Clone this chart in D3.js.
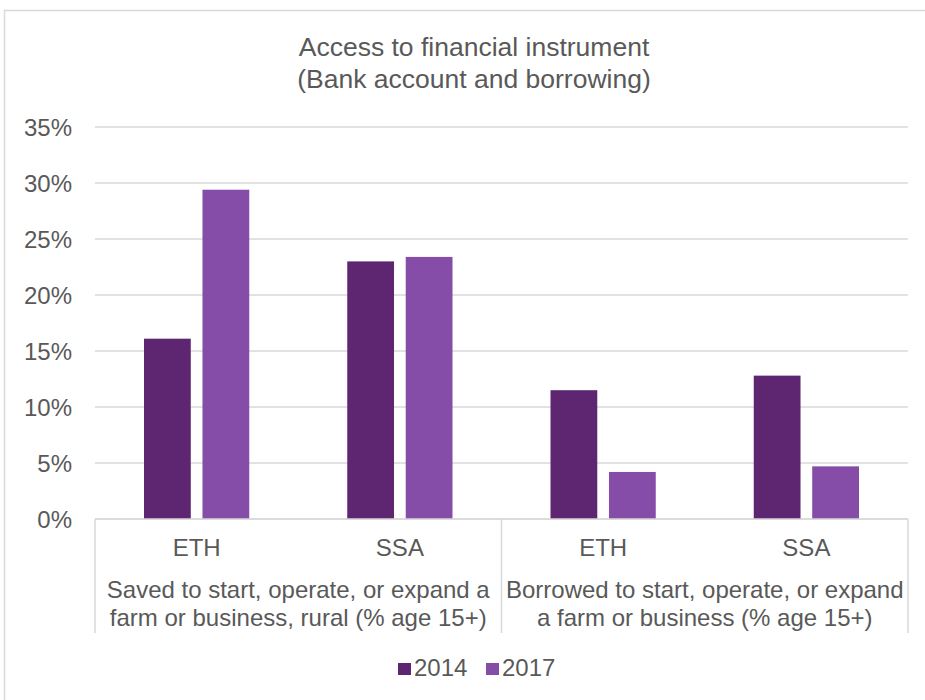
<!DOCTYPE html>
<html>
<head>
<meta charset="utf-8">
<script src="https://cdn.jsdelivr.net/npm/d3@7"></script>
<style>
  body { margin: 0; background: #fff; }
  text { font-family: "Liberation Sans", Arial, sans-serif; fill: #595959; }
</style>
</head>
<body>
<svg id="chart" width="925" height="700"></svg>
<script>
const groups = ['Saved to start, operate, or expand a|farm or business, rural (% age 15+)',
                'Borrowed to start, operate, or expand|a farm or business (% age 15+)'];
const regions = ['ETH', 'SSA'];
const series = ['2014', '2017'];
const values2014 = [16.1, 23.0, 11.5, 12.8];
const values2017 = [29.4, 23.4, 4.2, 4.7];
const yTicks = [0, 5, 10, 15, 20, 25, 30, 35];
const colors = ['#5E2570', '#854CA8'];

const svg = d3.select('#chart');
const margin = { top: 127, left: 95, right: 17, bottom: 181 };
const width = 925 - margin.left - margin.right;
const height = 700 - margin.top - margin.bottom;

// outer frame
svg.append('rect')
  .attr('x', 4.5).attr('y', 10.5)
  .attr('width', 940).attr('height', 700)
  .attr('fill', 'none').attr('stroke', '#d9d9d9').attr('stroke-width', 1.5);

// title
svg.append('text').attr('x', 474).attr('y', 56)
  .attr('text-anchor', 'middle').style('font-size', '26.5px')
  .text('Access to financial instrument');
svg.append('text').attr('x', 474).attr('y', 88)
  .attr('text-anchor', 'middle').style('font-size', '26.5px')
  .text('(Bank account and borrowing)');

const g = svg.append('g').attr('transform', `translate(${margin.left},${margin.top})`);

const cats = d3.range(groups.length * regions.length);
const x = d3.scaleBand().domain(cats).range([0, width]).paddingInner(0).paddingOuter(0);
const xInner = d3.scaleBand().domain(series).range([49, x.bandwidth() - 49]).paddingInner(0.2);
const y = d3.scaleLinear().domain([0, 35]).range([height, 0]);

// gridlines
g.selectAll('.grid').data(yTicks).enter().append('line')
  .attr('x1', 0).attr('x2', width)
  .attr('y1', d => y(d)).attr('y2', d => y(d))
  .attr('stroke', '#d9d9d9').attr('stroke-width', 1.5);

// y labels
g.selectAll('.ytick').data(yTicks).enter().append('text')
  .attr('x', -23).attr('y', d => y(d) + 8.5)
  .attr('text-anchor', 'end').style('font-size', '24px')
  .text(d => d + '%');

// bars
const data = cats.map(i => ({ i, vals: [values2014[i], values2017[i]] }));
const cg = g.selectAll('.cat').data(data).enter().append('g')
  .attr('transform', d => `translate(${x(d.i)},0)`);
cg.selectAll('rect').data(d => d.vals.map((v, k) => ({ v, k }))).enter().append('rect')
  .attr('x', d => xInner(series[d.k]))
  .attr('width', xInner.bandwidth())
  .attr('y', d => y(d.v))
  .attr('height', d => height - y(d.v))
  .attr('fill', d => colors[d.k]);

// x axis line and separators
g.append('line').attr('x1', 0).attr('x2', width).attr('y1', height).attr('y2', height)
  .attr('stroke', '#d9d9d9').attr('stroke-width', 1.5);
[0, 2, 4].forEach(i => {
  const xx = i < 4 ? x(i) : width;
  g.append('line').attr('x1', xx).attr('x2', xx).attr('y1', height).attr('y2', height + 114)
    .attr('stroke', '#d9d9d9').attr('stroke-width', 1.5);
});

// region labels
cats.forEach(i => {
  g.append('text').attr('x', x(i) + x.bandwidth() / 2).attr('y', height + 37)
    .attr('text-anchor', 'middle').style('font-size', '24px')
    .text(regions[i % regions.length]);
});

// group labels
groups.forEach((lab, gi) => {
  const cx = x(gi * 2) + x.bandwidth();
  lab.split('|').forEach((line, li) => {
    g.append('text').attr('x', cx).attr('y', height + 79 + li * 28)
      .attr('text-anchor', 'middle').style('font-size', '24px')
      .text(line);
  });
});

// legend
const leg = svg.append('g').attr('transform', 'translate(398,663)');
series.forEach((s, k) => {
  const lg = leg.append('g').attr('transform', `translate(${k * 88},0)`);
  lg.append('rect').attr('width', 13).attr('height', 12).attr('fill', colors[k]);
  lg.append('text').attr('x', 16).attr('y', 13).style('font-size', '24px').text(s);
});
</script>
</body>
</html>
